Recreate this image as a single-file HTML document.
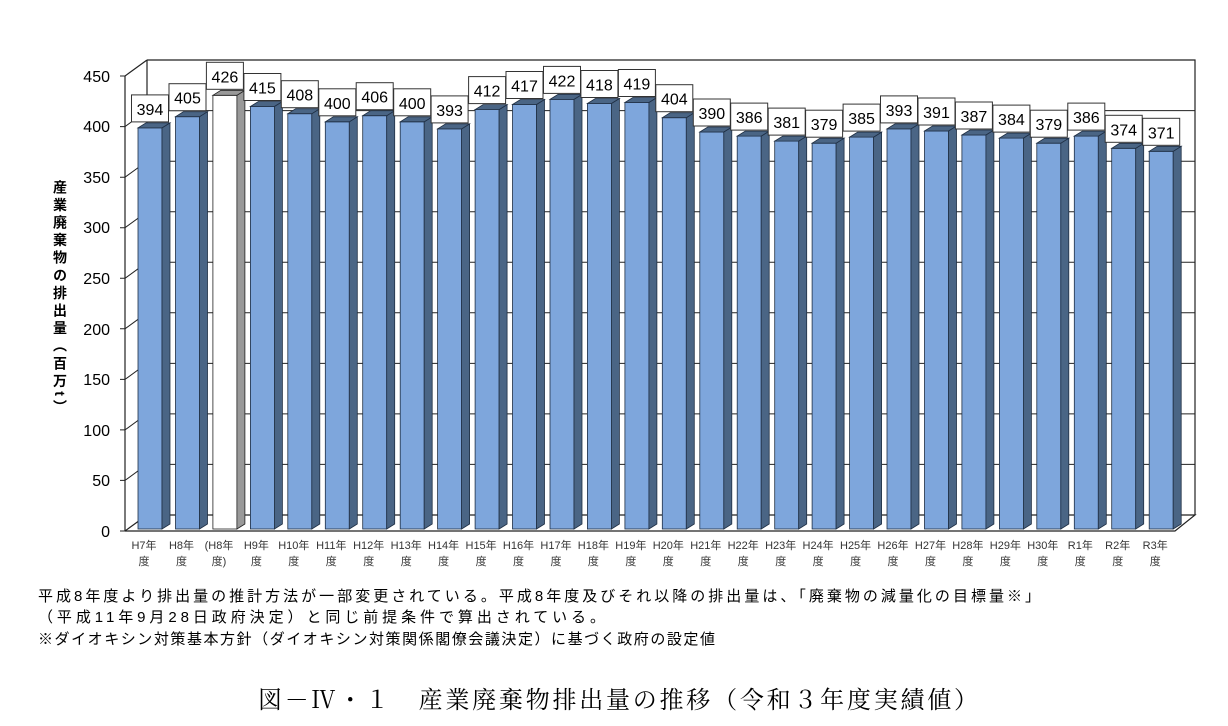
<!DOCTYPE html>
<html><head><meta charset="utf-8"><style>
body{margin:0;background:#fff;width:1228px;height:726px;overflow:hidden;font-family:"Liberation Sans","Noto Sans CJK JP",sans-serif}
svg{position:absolute;left:0;top:0}
</style></head><body>
<svg width="1228" height="726" viewBox="0 0 1228 726" xmlns="http://www.w3.org/2000/svg">
<g stroke="#222" stroke-width="1.2" fill="none">
<path d="M147 60 H1195 V515 M147 60 V515"/>
<path d="M125 76 L147 60 M125 531 L147 515"/>
<path d="M125 531 H1175 L1195 515 H147"/>
<line x1="125" y1="76" x2="125" y2="531"/>
</g>
<g stroke="#222" stroke-width="1" fill="none">
<path d="M125 480.4 L147 464.4 H1195 M125 429.9 L147 413.9 H1195 M125 379.4 L147 363.4 H1195 M125 328.8 L147 312.8 H1195 M125 278.3 L147 262.3 H1195 M125 227.7 L147 211.7 H1195 M125 177.2 L147 161.2 H1195 M125 126.6 L147 110.6 H1195"/>
<path d="M120 531H125 M120 480.4H125 M120 429.9H125 M120 379.4H125 M120 328.8H125 M120 278.3H125 M120 227.7H125 M120 177.2H125 M120 126.6H125 M120 76H125"/>
</g>
<g font-size="16" text-anchor="end" fill="#000">
<text x="110" y="537">0</text><text x="110" y="486">50</text><text x="110" y="436">100</text><text x="110" y="385">150</text><text x="110" y="335">200</text><text x="110" y="284">250</text><text x="110" y="233">300</text><text x="110" y="183">350</text><text x="110" y="132">400</text><text x="110" y="82">450</text>
</g>
<text font-size="14" font-weight="bold" fill="#000" style="writing-mode:vertical-rl;letter-spacing:3.6px" x="60" y="180">産業廃棄物の排出量（百万t）</text>
<defs>
<g id="lb"><rect x="-6.5" y="-33" width="37" height="27" fill="#fff" stroke="#333" stroke-width="1"/></g>
</defs>
<g stroke="#1f2f44" stroke-width="0.8">
<g transform="translate(138,127.9)"><rect width="24" height="401.1" fill="#7ea6dc"/><polygon points="24,0 32,-5 32,396.1 24,401.1" fill="#4a6585"/><polygon points="0,0 8,-5 32,-5 24,0" fill="#4a6585"/><use href="#lb"/><text x="12" y="-13" text-anchor="middle" font-size="16" stroke="none" fill="#000">394</text></g>
<g transform="translate(175.5,116.7)"><rect width="24" height="412.3" fill="#7ea6dc"/><polygon points="24,0 32,-5 32,407.3 24,412.3" fill="#4a6585"/><polygon points="0,0 8,-5 32,-5 24,0" fill="#4a6585"/><use href="#lb"/><text x="12" y="-13" text-anchor="middle" font-size="16" stroke="none" fill="#000">405</text></g>
<g transform="translate(212.9,95.3)" stroke="#222"><rect width="24" height="433.7" fill="#fff"/><polygon points="24,0 32,-5 32,428.7 24,433.7" fill="#999"/><polygon points="0,0 8,-5 32,-5 24,0" fill="#999"/><use href="#lb"/><text x="12" y="-13" text-anchor="middle" font-size="16" stroke="none" fill="#000">426</text></g>
<g transform="translate(250.4,106.5)"><rect width="24" height="422.5" fill="#7ea6dc"/><polygon points="24,0 32,-5 32,417.5 24,422.5" fill="#4a6585"/><polygon points="0,0 8,-5 32,-5 24,0" fill="#4a6585"/><use href="#lb"/><text x="12" y="-13" text-anchor="middle" font-size="16" stroke="none" fill="#000">415</text></g>
<g transform="translate(287.8,113.7)"><rect width="24" height="415.3" fill="#7ea6dc"/><polygon points="24,0 32,-5 32,410.3 24,415.3" fill="#4a6585"/><polygon points="0,0 8,-5 32,-5 24,0" fill="#4a6585"/><use href="#lb"/><text x="12" y="-13" text-anchor="middle" font-size="16" stroke="none" fill="#000">408</text></g>
<g transform="translate(325.3,121.8)"><rect width="24" height="407.2" fill="#7ea6dc"/><polygon points="24,0 32,-5 32,402.2 24,407.2" fill="#4a6585"/><polygon points="0,0 8,-5 32,-5 24,0" fill="#4a6585"/><use href="#lb"/><text x="12" y="-13" text-anchor="middle" font-size="16" stroke="none" fill="#000">400</text></g>
<g transform="translate(362.7,115.7)"><rect width="24" height="413.3" fill="#7ea6dc"/><polygon points="24,0 32,-5 32,408.3 24,413.3" fill="#4a6585"/><polygon points="0,0 8,-5 32,-5 24,0" fill="#4a6585"/><use href="#lb"/><text x="12" y="-13" text-anchor="middle" font-size="16" stroke="none" fill="#000">406</text></g>
<g transform="translate(400.2,121.8)"><rect width="24" height="407.2" fill="#7ea6dc"/><polygon points="24,0 32,-5 32,402.2 24,407.2" fill="#4a6585"/><polygon points="0,0 8,-5 32,-5 24,0" fill="#4a6585"/><use href="#lb"/><text x="12" y="-13" text-anchor="middle" font-size="16" stroke="none" fill="#000">400</text></g>
<g transform="translate(437.6,128.9)"><rect width="24" height="400.1" fill="#7ea6dc"/><polygon points="24,0 32,-5 32,395.1 24,400.1" fill="#4a6585"/><polygon points="0,0 8,-5 32,-5 24,0" fill="#4a6585"/><use href="#lb"/><text x="12" y="-13" text-anchor="middle" font-size="16" stroke="none" fill="#000">393</text></g>
<g transform="translate(475.1,109.6)"><rect width="24" height="419.4" fill="#7ea6dc"/><polygon points="24,0 32,-5 32,414.4 24,419.4" fill="#4a6585"/><polygon points="0,0 8,-5 32,-5 24,0" fill="#4a6585"/><use href="#lb"/><text x="12" y="-13" text-anchor="middle" font-size="16" stroke="none" fill="#000">412</text></g>
<g transform="translate(512.5,104.5)"><rect width="24" height="424.5" fill="#7ea6dc"/><polygon points="24,0 32,-5 32,419.5 24,424.5" fill="#4a6585"/><polygon points="0,0 8,-5 32,-5 24,0" fill="#4a6585"/><use href="#lb"/><text x="12" y="-13" text-anchor="middle" font-size="16" stroke="none" fill="#000">417</text></g>
<g transform="translate(550,99.4)"><rect width="24" height="429.6" fill="#7ea6dc"/><polygon points="24,0 32,-5 32,424.6 24,429.6" fill="#4a6585"/><polygon points="0,0 8,-5 32,-5 24,0" fill="#4a6585"/><use href="#lb"/><text x="12" y="-13" text-anchor="middle" font-size="16" stroke="none" fill="#000">422</text></g>
<g transform="translate(587.4,103.5)"><rect width="24" height="425.5" fill="#7ea6dc"/><polygon points="24,0 32,-5 32,420.5 24,425.5" fill="#4a6585"/><polygon points="0,0 8,-5 32,-5 24,0" fill="#4a6585"/><use href="#lb"/><text x="12" y="-13" text-anchor="middle" font-size="16" stroke="none" fill="#000">418</text></g>
<g transform="translate(624.9,102.5)"><rect width="24" height="426.5" fill="#7ea6dc"/><polygon points="24,0 32,-5 32,421.5 24,426.5" fill="#4a6585"/><polygon points="0,0 8,-5 32,-5 24,0" fill="#4a6585"/><use href="#lb"/><text x="12" y="-13" text-anchor="middle" font-size="16" stroke="none" fill="#000">419</text></g>
<g transform="translate(662.3,117.7)"><rect width="24" height="411.3" fill="#7ea6dc"/><polygon points="24,0 32,-5 32,406.3 24,411.3" fill="#4a6585"/><polygon points="0,0 8,-5 32,-5 24,0" fill="#4a6585"/><use href="#lb"/><text x="12" y="-13" text-anchor="middle" font-size="16" stroke="none" fill="#000">404</text></g>
<g transform="translate(699.8,132)"><rect width="24" height="397" fill="#7ea6dc"/><polygon points="24,0 32,-5 32,392 24,397" fill="#4a6585"/><polygon points="0,0 8,-5 32,-5 24,0" fill="#4a6585"/><use href="#lb"/><text x="12" y="-13" text-anchor="middle" font-size="16" stroke="none" fill="#000">390</text></g>
<g transform="translate(737.2,136.1)"><rect width="24" height="392.9" fill="#7ea6dc"/><polygon points="24,0 32,-5 32,387.9 24,392.9" fill="#4a6585"/><polygon points="0,0 8,-5 32,-5 24,0" fill="#4a6585"/><use href="#lb"/><text x="12" y="-13" text-anchor="middle" font-size="16" stroke="none" fill="#000">386</text></g>
<g transform="translate(774.7,141.1)"><rect width="24" height="387.9" fill="#7ea6dc"/><polygon points="24,0 32,-5 32,382.9 24,387.9" fill="#4a6585"/><polygon points="0,0 8,-5 32,-5 24,0" fill="#4a6585"/><use href="#lb"/><text x="12" y="-13" text-anchor="middle" font-size="16" stroke="none" fill="#000">381</text></g>
<g transform="translate(812.1,143.2)"><rect width="24" height="385.8" fill="#7ea6dc"/><polygon points="24,0 32,-5 32,380.8 24,385.8" fill="#4a6585"/><polygon points="0,0 8,-5 32,-5 24,0" fill="#4a6585"/><use href="#lb"/><text x="12" y="-13" text-anchor="middle" font-size="16" stroke="none" fill="#000">379</text></g>
<g transform="translate(849.6,137.1)"><rect width="24" height="391.9" fill="#7ea6dc"/><polygon points="24,0 32,-5 32,386.9 24,391.9" fill="#4a6585"/><polygon points="0,0 8,-5 32,-5 24,0" fill="#4a6585"/><use href="#lb"/><text x="12" y="-13" text-anchor="middle" font-size="16" stroke="none" fill="#000">385</text></g>
<g transform="translate(887,128.9)"><rect width="24" height="400.1" fill="#7ea6dc"/><polygon points="24,0 32,-5 32,395.1 24,400.1" fill="#4a6585"/><polygon points="0,0 8,-5 32,-5 24,0" fill="#4a6585"/><use href="#lb"/><text x="12" y="-13" text-anchor="middle" font-size="16" stroke="none" fill="#000">393</text></g>
<g transform="translate(924.5,131)"><rect width="24" height="398" fill="#7ea6dc"/><polygon points="24,0 32,-5 32,393 24,398" fill="#4a6585"/><polygon points="0,0 8,-5 32,-5 24,0" fill="#4a6585"/><use href="#lb"/><text x="12" y="-13" text-anchor="middle" font-size="16" stroke="none" fill="#000">391</text></g>
<g transform="translate(961.9,135)"><rect width="24" height="394" fill="#7ea6dc"/><polygon points="24,0 32,-5 32,389 24,394" fill="#4a6585"/><polygon points="0,0 8,-5 32,-5 24,0" fill="#4a6585"/><use href="#lb"/><text x="12" y="-13" text-anchor="middle" font-size="16" stroke="none" fill="#000">387</text></g>
<g transform="translate(999.4,138.1)"><rect width="24" height="390.9" fill="#7ea6dc"/><polygon points="24,0 32,-5 32,385.9 24,390.9" fill="#4a6585"/><polygon points="0,0 8,-5 32,-5 24,0" fill="#4a6585"/><use href="#lb"/><text x="12" y="-13" text-anchor="middle" font-size="16" stroke="none" fill="#000">384</text></g>
<g transform="translate(1036.8,143.2)"><rect width="24" height="385.8" fill="#7ea6dc"/><polygon points="24,0 32,-5 32,380.8 24,385.8" fill="#4a6585"/><polygon points="0,0 8,-5 32,-5 24,0" fill="#4a6585"/><use href="#lb"/><text x="12" y="-13" text-anchor="middle" font-size="16" stroke="none" fill="#000">379</text></g>
<g transform="translate(1074.3,136.1)"><rect width="24" height="392.9" fill="#7ea6dc"/><polygon points="24,0 32,-5 32,387.9 24,392.9" fill="#4a6585"/><polygon points="0,0 8,-5 32,-5 24,0" fill="#4a6585"/><use href="#lb"/><text x="12" y="-13" text-anchor="middle" font-size="16" stroke="none" fill="#000">386</text></g>
<g transform="translate(1111.7,148.3)"><rect width="24" height="380.7" fill="#7ea6dc"/><polygon points="24,0 32,-5 32,375.7 24,380.7" fill="#4a6585"/><polygon points="0,0 8,-5 32,-5 24,0" fill="#4a6585"/><use href="#lb"/><text x="12" y="-13" text-anchor="middle" font-size="16" stroke="none" fill="#000">374</text></g>
<g transform="translate(1149.2,151.3)"><rect width="24" height="377.7" fill="#7ea6dc"/><polygon points="24,0 32,-5 32,372.7 24,377.7" fill="#4a6585"/><polygon points="0,0 8,-5 32,-5 24,0" fill="#4a6585"/><use href="#lb"/><text x="12" y="-13" text-anchor="middle" font-size="16" stroke="none" fill="#000">371</text></g>
</g>
<g font-size="11" fill="#333" text-anchor="middle">
<text x="144" y="549">H7年</text><text x="144" y="565">度</text>
<text x="181.5" y="549">H8年</text><text x="181.5" y="565">度</text>
<text x="219" y="549">(H8年</text><text x="219" y="565">度)</text>
<text x="256.4" y="549">H9年</text><text x="256.4" y="565">度</text>
<text x="293.8" y="549">H10年</text><text x="293.8" y="565">度</text>
<text x="331.3" y="549">H11年</text><text x="331.3" y="565">度</text>
<text x="368.7" y="549">H12年</text><text x="368.7" y="565">度</text>
<text x="406.2" y="549">H13年</text><text x="406.2" y="565">度</text>
<text x="443.6" y="549">H14年</text><text x="443.6" y="565">度</text>
<text x="481.1" y="549">H15年</text><text x="481.1" y="565">度</text>
<text x="518.5" y="549">H16年</text><text x="518.5" y="565">度</text>
<text x="556" y="549">H17年</text><text x="556" y="565">度</text>
<text x="593.4" y="549">H18年</text><text x="593.4" y="565">度</text>
<text x="630.9" y="549">H19年</text><text x="630.9" y="565">度</text>
<text x="668.3" y="549">H20年</text><text x="668.3" y="565">度</text>
<text x="705.8" y="549">H21年</text><text x="705.8" y="565">度</text>
<text x="743.2" y="549">H22年</text><text x="743.2" y="565">度</text>
<text x="780.7" y="549">H23年</text><text x="780.7" y="565">度</text>
<text x="818.1" y="549">H24年</text><text x="818.1" y="565">度</text>
<text x="855.6" y="549">H25年</text><text x="855.6" y="565">度</text>
<text x="893" y="549">H26年</text><text x="893" y="565">度</text>
<text x="930.5" y="549">H27年</text><text x="930.5" y="565">度</text>
<text x="967.9" y="549">H28年</text><text x="967.9" y="565">度</text>
<text x="1005.4" y="549">H29年</text><text x="1005.4" y="565">度</text>
<text x="1042.8" y="549">H30年</text><text x="1042.8" y="565">度</text>
<text x="1080.3" y="549">R1年</text><text x="1080.3" y="565">度</text>
<text x="1117.7" y="549">R2年</text><text x="1117.7" y="565">度</text>
<text x="1155.2" y="549">R3年</text><text x="1155.2" y="565">度</text>
</g>
<g font-size="15" fill="#000">
<text x="38" y="601" textLength="1002" lengthAdjust="spacing">平成8年度より排出量の推計方法が一部変更されている。平成8年度及びそれ以降の排出量は、「廃棄物の減量化の目標量※」</text>
<text x="38" y="622" textLength="567" lengthAdjust="spacing">（平成11年9月28日政府決定）と同じ前提条件で算出されている。</text>
<text x="38" y="644" textLength="677" lengthAdjust="spacing">※ダイオキシン対策基本方針（ダイオキシン対策関係閣僚会議決定）に基づく政府の設定値</text>
</g>
<text x="258" y="708" font-size="24" fill="#000" textLength="720" lengthAdjust="spacing" font-family="'Liberation Serif','Noto Serif CJK SC',serif">図－Ⅳ・１　産業廃棄物排出量の推移（令和３年度実績値）</text>
</svg>
</body></html>
